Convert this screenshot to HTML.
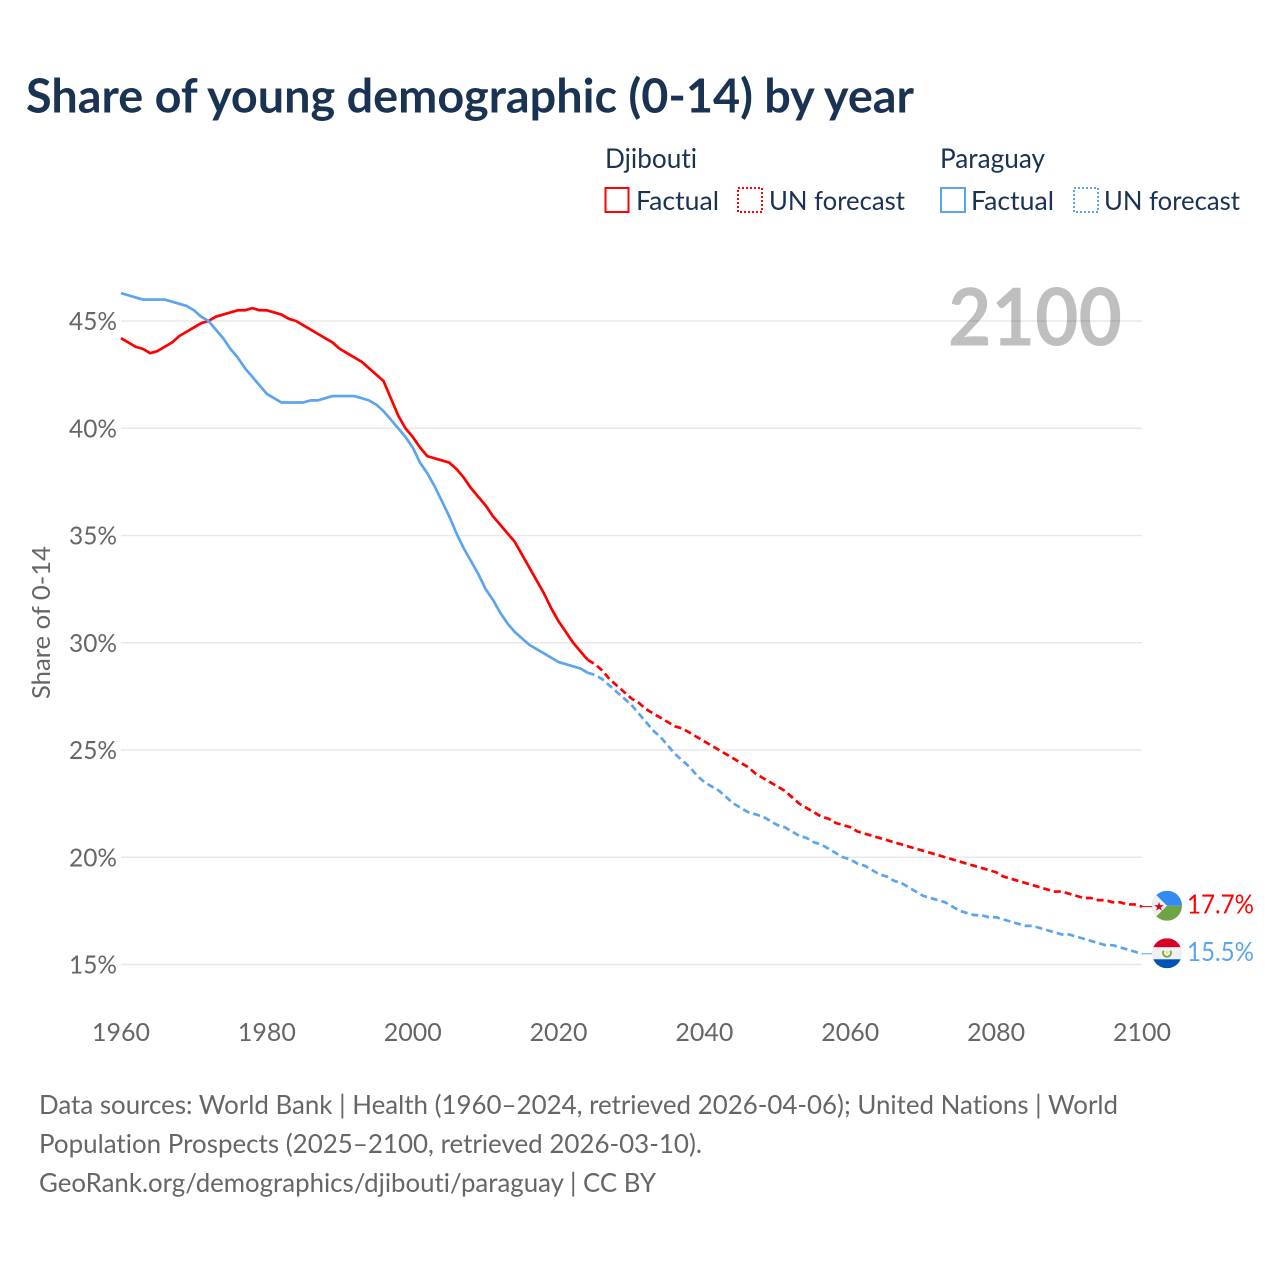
<!DOCTYPE html>
<html lang="en">
<head>
<meta charset="utf-8">
<title>Share of young demographic (0-14) by year</title>
<style>
  html, body { margin: 0; padding: 0; background: #fff; }
  svg { display: block; }
  text { font-family: "Lato", "Carlito", "Liberation Sans", sans-serif; font-variant-ligatures: none; }
</style>
</head>
<body>
<svg id="chart" xmlns="http://www.w3.org/2000/svg" width="1280" height="1280" viewBox="0 0 1280 1280">
  <rect x="0" y="0" width="1280" height="1280" fill="#ffffff"/>
  <text x="26" y="112.5" font-size="47" font-weight="700" fill="#1a3353" textLength="888" lengthAdjust="spacingAndGlyphs">Share of young demographic (0-14) by year</text>

  <g>
    <text x="605" y="168" font-size="27" fill="#1a3353" textLength="92" lengthAdjust="spacingAndGlyphs">Djibouti</text>
    <text x="940" y="168" font-size="27" fill="#1a3353" textLength="105" lengthAdjust="spacingAndGlyphs">Paraguay</text>

    <g>
      <rect x="605.5" y="188" width="23" height="24" fill="none" stroke="#ff0000" stroke-width="2"/>
      <text x="636" y="210" font-size="26.5" fill="#1a3353" textLength="83" lengthAdjust="spacingAndGlyphs">Factual</text>
    </g>
    <g>
      <rect x="738" y="188" width="24" height="24" fill="none" stroke="#ff0000" stroke-width="2" stroke-dasharray="2 2"/>
      <text x="769" y="210" font-size="26.5" fill="#1a3353" textLength="136" lengthAdjust="spacingAndGlyphs">UN forecast</text>
    </g>
    <g>
      <rect x="941" y="188" width="24" height="24" fill="none" stroke="#5ba4ee" stroke-width="2"/>
      <text x="971" y="210" font-size="26.5" fill="#1a3353" textLength="83" lengthAdjust="spacingAndGlyphs">Factual</text>
    </g>
    <g>
      <rect x="1074" y="188" width="24" height="24" fill="none" stroke="#5ba4ee" stroke-width="2" stroke-dasharray="2 2"/>
      <text x="1104" y="210" font-size="26.5" fill="#1a3353" textLength="136" lengthAdjust="spacingAndGlyphs">UN forecast</text>
    </g>
  </g>

  <text x="1122" y="345.5" text-anchor="end" font-size="80" font-weight="700" fill="#bfbfbf" textLength="174" lengthAdjust="spacingAndGlyphs">2100</text>

  <g id="grid"></g>
  <g id="yticks"></g>
  <g id="xticks"></g>
  <text transform="translate(50,622.5) rotate(-90)" text-anchor="middle" font-size="25.5" fill="#666666" textLength="153" lengthAdjust="spacingAndGlyphs">Share of 0-14</text>
  <g id="series"></g>

  <defs>
    <clipPath id="flag-clip"><circle cx="0" cy="0" r="15"/></clipPath>
  </defs>
  <g id="flag-djibouti" clip-path="url(#flag-clip)">
    <rect x="-15" y="-15" width="30" height="15" fill="#338af3"/>
    <rect x="-15" y="0" width="30" height="15" fill="#6da544"/>
    <polygon points="-15,-15 0,0 -15,15" fill="#f0f0f0"/>
    <polygon points="-8,-4 -6.9,-0.6 -3.2,-0.6 -6.2,1.6 -5,5 -8,2.9 -11,5 -9.8,1.6 -12.8,-0.6 -9.1,-0.6" fill="#d80027"/>
  </g>
  <g id="flag-paraguay" clip-path="url(#flag-clip)">
    <rect x="-15" y="-15" width="30" height="9" fill="#d80027"/>
    <rect x="-15" y="-6" width="30" height="12" fill="#f0f0f0"/>
    <rect x="-15" y="6" width="30" height="9" fill="#0052b4"/>
    <path d="M-3.4,-2.6 A4,4 0 1 0 3.4,-2.6" fill="none" stroke="#6da544" stroke-width="1.8"/>
    <circle cx="0" cy="-0.8" r="1.3" fill="#ffda44"/>
  </g>
  <g id="end-labels"></g>

  <g>
    <text x="39" y="1114" font-size="26.5" fill="#666666" textLength="1079" lengthAdjust="spacingAndGlyphs">Data sources: World Bank | Health (1960–2024, retrieved 2026-04-06); United Nations | World</text>
    <text x="39" y="1153" font-size="26.5" fill="#666666" textLength="663" lengthAdjust="spacingAndGlyphs">Population Prospects (2025–2100, retrieved 2026-03-10).</text>
    <text x="39" y="1192" font-size="26.5" fill="#666666" textLength="617" lengthAdjust="spacingAndGlyphs">GeoRank.org/demographics/djibouti/paraguay | CC BY</text>
  </g>
</svg>
<script>
var xTickYears = [1960, 1980, 2000, 2020, 2040, 2060, 2080, 2100];
var yTickValues = [15, 20, 25, 30, 35, 40, 45];
var factualStartYear = 1960;
var forecastStartYear = 2024;

var djiboutiFactual = [
  44.2,44.0,43.8,43.7,43.5,43.6,43.8,44.0,44.3,44.5,
  44.7,44.9,45.0,45.2,45.3,45.4,45.5,45.5,45.6,45.5,
  45.5,45.4,45.3,45.1,45.0,44.8,44.6,44.4,44.2,44.0,
  43.7,43.5,43.3,43.1,42.8,42.5,42.2,41.4,40.6,40.0,
  39.6,39.1,38.7,38.6,38.5,38.4,38.1,37.7,37.2,36.8,
  36.4,35.9,35.5,35.1,34.7,34.1,33.5,32.9,32.3,31.6,
  31.0,30.5,30.0,29.6,29.2
];
var djiboutiForecast = [
  29.2,29.0,28.7,28.3,28.0,27.7,
  27.4,27.2,26.9,26.7,26.5,26.3,26.1,26.0,25.8,25.6,
  25.4,25.2,25.0,24.8,24.6,24.4,24.2,23.9,23.7,23.5,
  23.3,23.1,22.8,22.5,22.3,22.1,21.9,21.8,21.6,21.5,
  21.4,21.2,21.1,21.0,20.9,20.8,20.7,20.6,20.5,20.4,
  20.3,20.2,20.1,20.0,19.9,19.8,19.7,19.6,19.5,19.4,
  19.3,19.1,19.0,18.9,18.8,18.7,18.6,18.5,18.4,18.4,
  18.3,18.2,18.1,18.1,18.0,18.0,17.9,17.9,17.8,17.8,
  17.7
];
var paraguayFactual = [
  46.3,46.2,46.1,46.0,46.0,46.0,46.0,45.9,45.8,45.7,
  45.5,45.2,45.0,44.6,44.2,43.7,43.3,42.8,42.4,42.0,
  41.6,41.4,41.2,41.2,41.2,41.2,41.3,41.3,41.4,41.5,
  41.5,41.5,41.5,41.4,41.3,41.1,40.8,40.4,40.0,39.6,
  39.1,38.4,37.9,37.3,36.6,35.9,35.1,34.4,33.8,33.2,
  32.5,32.0,31.4,30.9,30.5,30.2,29.9,29.7,29.5,29.3,
  29.1,29.0,28.9,28.8,28.6
];
var paraguayForecast = [
  28.6,28.5,28.3,28.0,27.7,27.4,
  27.1,26.7,26.3,25.9,25.6,25.2,24.8,24.5,24.2,23.8,
  23.5,23.3,23.1,22.8,22.5,22.3,22.1,22.0,21.9,21.7,
  21.5,21.4,21.2,21.0,20.9,20.7,20.6,20.4,20.2,20.0,
  19.9,19.7,19.6,19.4,19.2,19.1,18.9,18.8,18.6,18.4,
  18.2,18.1,18.0,17.9,17.7,17.5,17.4,17.3,17.3,17.2,
  17.2,17.1,17.0,16.9,16.8,16.8,16.7,16.6,16.5,16.4,
  16.4,16.3,16.2,16.1,16.0,15.9,15.9,15.8,15.7,15.6,
  15.5
];

var NS = 'http://www.w3.org/2000/svg';
var RED = '#ff0000';
var BLUE = '#5ba4ee';

function xScale(year) { return 121 + (year - 1960) * (1142 - 121) / 140; }
function yScale(pct) { return 321 + (45 - pct) * 21.45; }

function make(tag, attrs, parent, content) {
  var el = document.createElementNS(NS, tag);
  for (var k in attrs) { el.setAttribute(k, attrs[k]); }
  if (content !== undefined) { el.textContent = content; }
  parent.appendChild(el);
  return el;
}

function linePoints(values, startYear) {
  return values.map(function (v, i) {
    return xScale(startYear + i).toFixed(2) + ',' + yScale(v).toFixed(2);
  }).join(' ');
}

var gridGroup = document.getElementById('grid');
var yTickGroup = document.getElementById('yticks');
var xTickGroup = document.getElementById('xticks');
var seriesGroup = document.getElementById('series');
var endGroup = document.getElementById('end-labels');

yTickValues.forEach(function (v) {
  var gridLine = make('line', { x1: 121, x2: 1142, y1: yScale(v), y2: yScale(v), stroke: 'rgba(0,0,0,0.09)', 'stroke-width': 1.5 }, gridGroup);
  
  
  var yLabel = make('text', { x: 117, y: yScale(v) + 9, 'text-anchor': 'end', 'font-size': 25.5, fill: '#666666', textLength: 48, lengthAdjust: 'spacingAndGlyphs' }, yTickGroup, v + '%');
  
  
});

xTickYears.forEach(function (yr) {
  var xLabel = make('text', { x: xScale(yr), y: 1041, 'text-anchor': 'middle', 'font-size': 25.5, fill: '#666666', textLength: 58, lengthAdjust: 'spacingAndGlyphs' }, xTickGroup, String(yr));
  
  
});

function drawSeries(name, color, factual, forecast, flagId, flagDy) {
  var solid = make('polyline', { points: linePoints(factual, factualStartYear), fill: 'none', stroke: color, 'stroke-width': 2.7, 'stroke-linejoin': 'round' }, seriesGroup);
  
  

  var dashed = make('polyline', { points: linePoints(forecast, forecastStartYear), fill: 'none', stroke: color, 'stroke-width': 2.7, 'stroke-dasharray': '7 4', 'stroke-linejoin': 'round' }, seriesGroup);
  
  

  var last = forecast[forecast.length - 1];
  var endX = xScale(forecastStartYear + forecast.length - 1);
  var flagY = yScale(last) + flagDy;

  var connector = make('line', { x1: endX, y1: yScale(last), x2: 1153, y2: yScale(last), stroke: color, 'stroke-width': 1 }, seriesGroup);
  
  

  document.getElementById(flagId).setAttribute('transform', 'translate(1167,' + flagY + ')');

  var valueLabel = make('text', { x: 1187, y: flagY + 7.5, 'font-size': 26.5, fill: color, textLength: 67, lengthAdjust: 'spacingAndGlyphs' }, endGroup, last.toFixed(1) + '%');
  
  
}

drawSeries('djibouti', RED, djiboutiFactual, djiboutiForecast, 'flag-djibouti', -0.8);
drawSeries('paraguay', BLUE, paraguayFactual, paraguayForecast, 'flag-paraguay', -0.5);
</script>
</body>
</html>
